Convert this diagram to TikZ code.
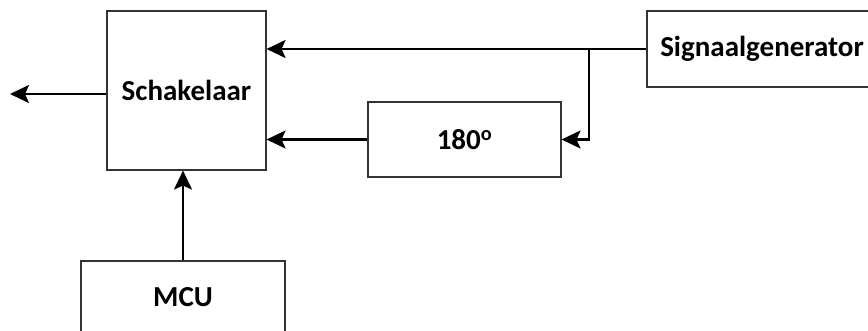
\documentclass[tikz,border=0pt]{standalone}
\usepackage{fontspec}
\setmainfont{Carlito}
\usetikzlibrary{arrows.meta,calc}

\begin{document}
\begin{tikzpicture}[x=1pt, y=-1pt,
  block/.style={rectangle, draw=black!80, line width=1.1pt, inner sep=0pt,
    font=\fontsize{29}{34}\selectfont\bfseries},
  sig/.style={line width=2.2pt, -{Stealth[length=19pt, width=18pt, inset=4pt]}}]
  \useasboundingbox (0,0) rectangle (868,330);

  % Blocks
  \node (sw) at (186.5,90.5) [block, minimum width=159pt, minimum height=159pt] {Schakelaar};
  \node (ph) at (464.5,139.5) [block, minimum width=193pt, minimum height=75pt] {180\textsuperscript{o}};
  \node (gen) at (762,49) [block, minimum width=230pt, minimum height=76pt] {Signaalgenerator};
  \node (mcu) at (183,297) [block, minimum width=204pt, minimum height=72pt] {MCU};

  % Signal paths
  \coordinate (br) at (589,49);
  \coordinate (out) at (10,94);
  \draw[line width=2.2pt] (gen.west) -- (br);
  \draw[sig] (br) -- (sw.east |- gen.west);
  \draw[sig] (br) |- (ph.east);
  \draw[sig] (ph.west) -- (sw.east |- ph.west);
  \draw[sig] (sw.west |- out) -- (out);
  \draw[sig] (mcu.north) -- (mcu.north |- sw.south);
\end{tikzpicture}
\end{document}
